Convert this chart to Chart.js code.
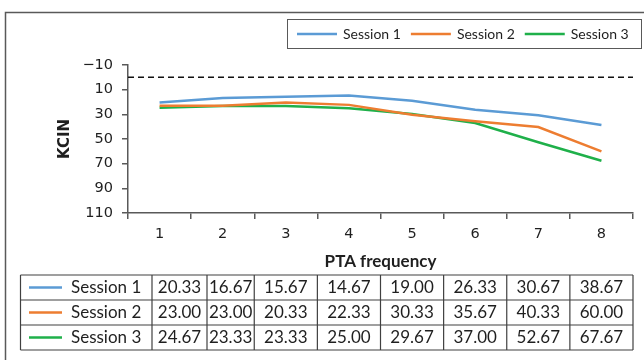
<!DOCTYPE html>
<html>
<head>
<meta charset="utf-8">
<script src="https://cdn.jsdelivr.net/npm/chart.js@4.4.0/dist/chart.umd.min.js"></script>
<style>
  body { margin: 0; background: #fff; }
  canvas { display: block; }
</style>
</head>
<body>
<canvas id="kcinChart" width="644" height="360"></canvas>
<script>
// data
var categories = ['1', '2', '3', '4', '5', '6', '7', '8'];
var seriesNames = ['Session 1', 'Session 2', 'Session 3'];
var session1 = [20.33, 16.67, 15.67, 14.67, 19.00, 26.33, 30.67, 38.67];
var session2 = [23.00, 23.00, 20.33, 22.33, 30.33, 35.67, 40.33, 60.00];
var session3 = [24.67, 23.33, 23.33, 25.00, 29.67, 37.00, 52.67, 67.67];
var yTicks = [-10, 10, 30, 50, 70, 90, 110];
var refLevel = 0;

var colors = ['#5b9bd5', '#ed7d31', '#1fb04a'];
var axisColor = '#595959';
var textColor = '#1f1f1f';

// the extras Excel draws: frame, dashed line, boxed legend, data table
var extrasPlugin = {
    id: 'extras',
    beforeDraw: function(chart) {
        var ctx = chart.ctx;
        ctx.save();
        ctx.fillStyle = '#fff';
        ctx.fillRect(0, 0, chart.width, chart.height);
        ctx.strokeStyle = axisColor;
        ctx.lineWidth = 1.5;
        ctx.strokeRect(5.5, 12.5, 700, 400);
        ctx.restore();
    },
    beforeDatasetsDraw: function(chart) {
        var ctx = chart.ctx;
        var area = chart.chartArea;
        var y = chart.scales.y.getPixelForValue(refLevel);
        ctx.save();
        ctx.strokeStyle = '#111';
        ctx.lineWidth = 1.5;
        ctx.setLineDash([6, 4]);
        ctx.beginPath();
        ctx.moveTo(area.left, y);
        ctx.lineTo(area.right, y);
        ctx.stroke();
        ctx.restore();
    },
    afterDraw: function(chart) {
        drawLegend(chart);
        drawTable(chart);
    }
};

function drawLegend(chart) {
    var ctx = chart.ctx;
    var sets = chart.data.datasets;
    ctx.save();
    ctx.strokeStyle = axisColor;
    ctx.lineWidth = 1;
    ctx.strokeRect(287.5, 19.5, 354, 29);
    ctx.font = '14px Lato';
    ctx.textBaseline = 'middle';
    ctx.fillStyle = textColor;
    var x = 297;
    var y = 34;
    for (var i = 0; i < sets.length; i++) {
        ctx.strokeStyle = sets[i].borderColor;
        ctx.lineWidth = 2.5;
        ctx.beginPath();
        ctx.moveTo(x, y);
        ctx.lineTo(x + 40, y);
        ctx.stroke();
        ctx.fillText(sets[i].label, x + 46, y);
        x += 46 + ctx.measureText(sets[i].label).width + 10;
    }
    ctx.restore();
}

function drawTable(chart) {
    var ctx = chart.ctx;
    var xs = chart.scales.x;
    var sets = chart.data.datasets;
    var n = categories.length;
    var top = 275, rowH = 25;
    // column edges: label column, then one column per category
    var edges = [20.5, 152, 207];
    for (var i = 2; i < n; i++) {
        edges.push((xs.getPixelForValue(i - 1) + xs.getPixelForValue(i)) / 2);
    }
    edges.push(xs.right);

    ctx.save();
    ctx.strokeStyle = '#404040';
    ctx.lineWidth = 1.2;
    for (var r = 0; r <= sets.length; r++) {
        ctx.beginPath();
        ctx.moveTo(edges[0], top + r * rowH);
        ctx.lineTo(edges[edges.length - 1], top + r * rowH);
        ctx.stroke();
    }
    for (var c = 0; c < edges.length; c++) {
        ctx.beginPath();
        ctx.moveTo(edges[c], top);
        ctx.lineTo(edges[c], top + sets.length * rowH);
        ctx.stroke();
    }

    ctx.font = '17px Lato';
    ctx.textBaseline = 'middle';
    ctx.fillStyle = textColor;
    for (var r = 0; r < sets.length; r++) {
        var cy = top + r * rowH + rowH / 2;
        ctx.strokeStyle = sets[r].borderColor;
        ctx.lineWidth = 2.5;
        ctx.beginPath();
        ctx.moveTo(29, cy);
        ctx.lineTo(62, cy);
        ctx.stroke();
        ctx.textAlign = 'left';
        ctx.fillText(sets[r].label, 71, cy);
        ctx.textAlign = 'center';
        for (var k = 0; k < n; k++) {
            ctx.fillText(sets[r].data[k].toFixed(2), (edges[k + 1] + edges[k + 2]) / 2, cy);
        }
    }
    ctx.restore();
}

var seriesData = [session1, session2, session3];
var datasets = [];
for (var i = 0; i < seriesData.length; i++) {
    datasets.push({
        label: seriesNames[i],
        data: seriesData[i],
        borderColor: colors[i],
        backgroundColor: colors[i],
        borderWidth: 2.5,
        pointRadius: 0,
        tension: 0,
        fill: false
    });
}

var ctx = document.getElementById('kcinChart');
var chart = new Chart(ctx, {
    type: 'line',
    data: {
        labels: categories,
        datasets: datasets
    },
    options: {
        responsive: false,
        animation: false,
        devicePixelRatio: 1,
        layout: {
            padding: { top: 65, left: 0, right: 11, bottom: 88 }
        },
        plugins: {
            legend: { display: false },
            tooltip: { enabled: false }
        },
        scales: {
            x: {
                offset: true,
                grid: { offset: true, drawOnChartArea: false, tickLength: 6, color: axisColor, lineWidth: 1.5 },
                border: { color: axisColor, width: 1.5 },
                ticks: { padding: 7, color: textColor, font: { family: 'DejaVu Sans', size: 14.5 } },
                title: {
                    display: true,
                    text: 'PTA frequency',
                    color: textColor,
                    padding: { top: 0, bottom: 0 },
                    font: { family: 'Lato', size: 17, weight: 'bold' }
                },
                afterFit: function(scale) { scale.height = 59; }
            },
            y: {
                reverse: true,
                min: yTicks[0],
                max: yTicks[yTicks.length - 1],
                afterBuildTicks: function(scale) {
                    scale.ticks = yTicks.map(function(v) { return { value: v }; });
                },
                grid: { drawOnChartArea: false, tickLength: 6, color: axisColor, lineWidth: 1.5 },
                border: { color: axisColor, width: 1.5 },
                ticks: {
                    padding: 9,
                    color: textColor,
                    font: { family: 'DejaVu Sans', size: 14.5 },
                    callback: function(v) { return String(v).replace('-', '\u2212'); }
                },
                title: {
                    display: true,
                    text: 'KCIN',
                    color: textColor,
                    padding: { top: 56, bottom: 0 },
                    font: { family: 'DejaVu Sans', size: 15, weight: 'bold' }
                },
                afterFit: function(scale) { scale.width = 128; }
            }
        }
    },
    plugins: [extrasPlugin]
});
</script>
</body>
</html>
